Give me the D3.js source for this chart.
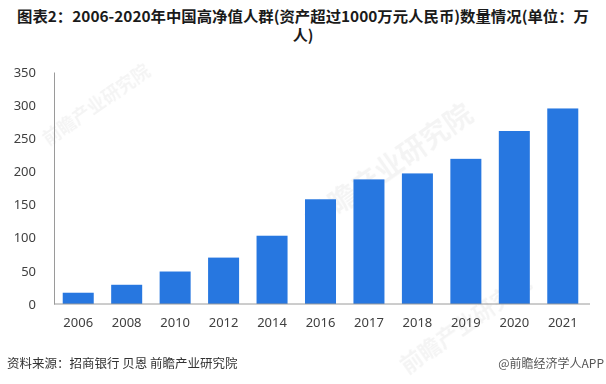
<!DOCTYPE html>
<html>
<head>
<meta charset="utf-8">
<script src="https://cdn.jsdelivr.net/npm/d3@7"></script>
<style>
    body { margin: 0; background: #fff; }
    svg { display: block; font-family: "Noto Sans CJK SC", "Noto Sans", sans-serif; }
    .tick text { fill: #404040; }
</style>
</head>
<body>
<svg id="chart" width="606" height="384"></svg>
<script>
// data (unit: 万人)
var years = ["2006", "2008", "2010", "2012", "2014", "2016", "2017", "2018", "2019", "2020", "2021"];
var people = [17, 29, 49, 70, 103, 158, 188, 197, 219, 261, 295];
var y_ticks = [0, 50, 100, 150, 200, 250, 300, 350];
var title_lines = ["图表2：2006-2020年中国高净值人群(资产超过1000万元人民币)数量情况(单位：万", "人)"];
var source_txt = "资料来源：招商银行 贝恩 前瞻产业研究院";
var brand_txt = "@前瞻经济学人APP";

var svg = d3.select("#chart");
var width = 606, height = 384;
var pad_left = 54, pad_right = 19, pad_top = 72, pad_bot = 80;

// faint watermark
var wm = svg.append("g").attr("opacity", 0.045);
[[100, 110, 18], [395, 175, 28], [470, 330, 22]].forEach(function (p) {
    wm.append("text")
            .attr("transform", "translate(" + p[0] + "," + p[1] + ") rotate(-35)")
            .attr("text-anchor", "middle")
            .attr("font-size", p[2])
            .attr("font-weight", "bold")
            .attr("fill", "#000")
            .text("前瞻产业研究院");
});

var title = svg.append("text")
        .attr("text-anchor", "middle")
        .attr("font-size", 15)
        .attr("font-weight", "bold")
        .attr("fill", "#1a1a1a");
title.append("tspan").attr("x", 303).attr("y", 22).attr("textLength", 572).attr("lengthAdjust", "spacingAndGlyphs").text(title_lines[0]);
title.append("tspan").attr("x", 303).attr("y", 41).text(title_lines[1]);

var x = d3.scaleBand()
        .domain(years)
        .range([pad_left, width - pad_right])
        .paddingInner(0.36)
        .paddingOuter(0.18);
var y = d3.scaleLinear().domain([0, 350]).range([height - pad_bot, pad_top]);

var yAxis = d3.axisLeft(y).tickValues(y_ticks).tickSize(0).tickPadding(18);
var gy = svg.append("g")
        .attr("transform", "translate(" + pad_left + ",0)")
        .call(yAxis);
gy.select(".domain").attr("stroke", "#9a9a9a");
gy.selectAll("text").attr("font-size", 13).attr("font-family", "Noto Sans, sans-serif");

svg.append("g").selectAll("rect")
        .data(years)
        .enter().append("rect")
        .attr("x", function (d) { return x(d); })
        .attr("width", x.bandwidth())
        .attr("y", function (d, i) { return y(people[i]); })
        .attr("height", function (d, i) { return y(0) - y(people[i]); })
        .attr("fill", "#2777e0");

var xAxis = d3.axisBottom(x).tickSize(0).tickPadding(14);
var gx = svg.append("g")
        .attr("transform", "translate(0," + y(0) + ")")
        .call(xAxis);
gx.select(".domain").attr("stroke", "#9a9a9a").attr("d", "M" + pad_left + ",0H" + (width - 16));
gx.selectAll("text").attr("font-size", 13).attr("font-family", "Noto Sans, sans-serif");

svg.append("text")
        .attr("x", 7).attr("y", 368)
        .attr("font-size", 12.5)
        .attr("fill", "#333")
        .text(source_txt);
svg.append("text")
        .attr("x", 604).attr("y", 368)
        .attr("text-anchor", "end")
        .attr("font-size", 12)
        .attr("fill", "#555")
        .text(brand_txt);
</script>
</body>
</html>
